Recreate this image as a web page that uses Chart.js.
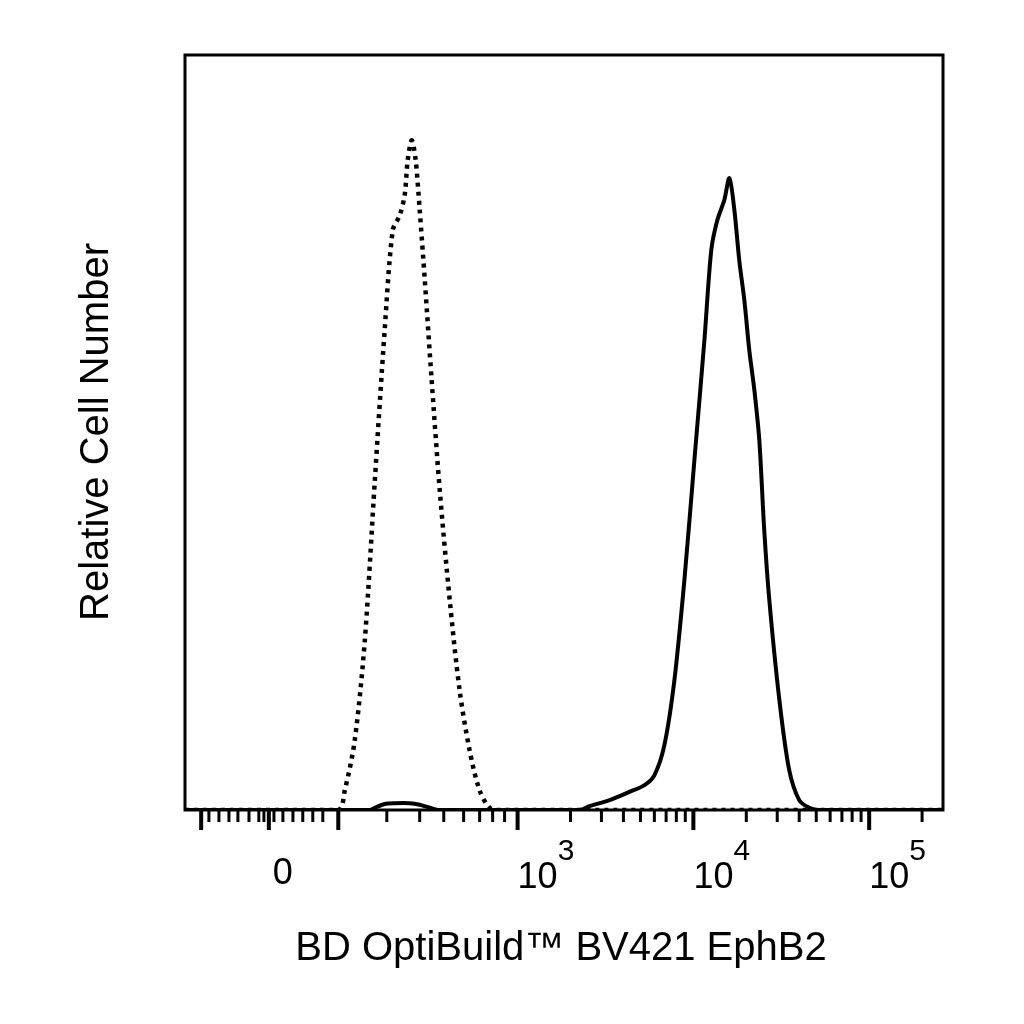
<!DOCTYPE html>
<html>
<head>
<meta charset="utf-8">
<script src="https://cdn.jsdelivr.net/npm/chart.js@4"></script>
<style>
  body { margin: 0; background: #fff; }
  #wrap { width: 1024px; height: 1024px; }
</style>
</head>
<body>
<div id="wrap"><canvas id="histo" width="1024" height="1024"></canvas></div>
<script>
// x is in display decades (3 = 10^3, 4 = 10^4, ...), y is relative count
const isotypeX = [1.108, 1.977, 2.017, 2.074, 2.131, 2.188, 2.244, 2.290, 2.330, 2.358, 2.375, 2.398, 2.420, 2.443, 2.472, 2.511, 2.557, 2.614, 2.670, 2.727, 2.784, 2.841, 2.898, 5.42];
const isotypeY = [0, 0, 2.6, 9.3, 22.5, 43.7, 63.6, 76.8, 78.8, 81.5, 86.1, 88.7, 86.1, 79.5, 70.2, 57.0, 42.4, 27.8, 15.9, 7.9, 2.6, 0.3, 0, 0];

const stainedX = [1.108, 2.159, 2.188, 2.244, 2.301, 2.386, 2.443, 2.500, 2.557, 3.352, 3.409, 3.523, 3.636, 3.722, 3.778, 3.835, 3.892, 3.949, 4.006, 4.063, 4.102, 4.136, 4.176, 4.205, 4.233, 4.261, 4.290, 4.318, 4.347, 4.375, 4.403, 4.432, 4.489, 4.545, 4.602, 4.659, 4.716, 5.42];
const stainedY = [0, 0, 0.3, 0.8, 0.9, 0.9, 0.7, 0.3, 0, 0, 0.5, 1.3, 2.4, 3.3, 4.6, 8.6, 17.2, 30.5, 46.4, 62.3, 74.2, 78.1, 80.8, 83.7, 79.5, 72.8, 67.5, 60.9, 55.6, 49.0, 37.1, 27.8, 14.6, 5.3, 1.3, 0.3, 0, 0];

const majorTicks = [1.2, 1.585, 1.98, 3, 4, 5];
const minorTicks = [1.244, 1.301, 1.358, 1.409, 1.472, 1.528, 1.557, 1.614, 1.665, 1.722, 1.778, 1.835, 1.892,
  2.256, 2.443, 2.58, 2.693, 2.784, 2.858, 2.926,
  3.301, 3.477, 3.602, 3.699, 3.778, 3.845, 3.903, 3.954,
  4.301, 4.477, 4.602, 4.699, 4.778, 4.845, 4.903, 4.954, 5.301];
const tickLabels = [
  { at: 1.585, base: "0", exp: "" },
  { at: 3, base: "10", exp: "3" },
  { at: 4, base: "10", exp: "4" },
  { at: 5, base: "10", exp: "5" }
];

const toPoints = (xs, ys) => xs.map((x, i) => ({ x: x, y: ys[i] }));

const axisPlugin = {
  id: "flowAxis",
  afterDraw(chart) {
    const ctx = chart.ctx;
    const a = chart.chartArea;
    const xs = chart.scales.x;
    ctx.save();
    ctx.strokeStyle = "#000";
    ctx.lineWidth = 3;
    ctx.strokeRect(a.left, a.top, a.right - a.left, a.bottom - a.top);
    ctx.lineWidth = 3;
    minorTicks.forEach(v => {
      const px = xs.getPixelForValue(v);
      ctx.beginPath(); ctx.moveTo(px, a.bottom); ctx.lineTo(px, a.bottom + 12); ctx.stroke();
    });
    ctx.lineWidth = 4;
    majorTicks.forEach(v => {
      const px = xs.getPixelForValue(v);
      ctx.beginPath(); ctx.moveTo(px, a.bottom); ctx.lineTo(px, a.bottom + 20); ctx.stroke();
    });
    ctx.fillStyle = "#000";
    ctx.textBaseline = "alphabetic";
    tickLabels.forEach(t => {
      const px = xs.getPixelForValue(t.at);
      ctx.font = "36px 'Liberation Sans', Arial";
      if (!t.exp) {
        ctx.textAlign = "center";
        ctx.fillText(t.base, px + 14, 884);
      } else {
        ctx.textAlign = "left";
        ctx.fillText(t.base, px, 888);
        const w = ctx.measureText(t.base).width;
        ctx.font = "30px 'Liberation Sans', Arial";
        ctx.fillText(t.exp, px + w, 860);
      }
    });
    ctx.font = "40px 'Liberation Sans', Arial";
    ctx.textAlign = "center";
    ctx.fillText("BD OptiBuild™ BV421 EphB2", (a.left + a.right) / 2 - 3, 960);
    ctx.translate(108, 432);
    ctx.rotate(-Math.PI / 2);
    ctx.fillText("Relative Cell Number", 0, 0);
    ctx.restore();
  }
};

new Chart(document.getElementById("histo"), {
  type: "line",
  data: {
    datasets: [
      {
        label: "Isotype",
        data: toPoints(isotypeX, isotypeY),
        borderColor: "#000",
        borderWidth: 4.5,
        borderDash: [4, 5],
        pointRadius: 0,
        tension: 0.3,
        fill: false
      },
      {
        label: "EphB2",
        data: toPoints(stainedX, stainedY),
        borderColor: "#000",
        borderWidth: 4,
        pointRadius: 0,
        tension: 0.3,
        fill: false
      }
    ]
  },
  options: {
    responsive: false,
    animation: false,
    layout: { padding: { left: 185, top: 55, right: 81, bottom: 214 } },
    plugins: { legend: { display: false }, tooltip: { enabled: false } },
    scales: {
      x: { type: "linear", min: 1.108, max: 5.42, display: false },
      y: { min: 0, max: 100, display: false }
    }
  },
  plugins: [axisPlugin]
});
</script>
</body>
</html>
